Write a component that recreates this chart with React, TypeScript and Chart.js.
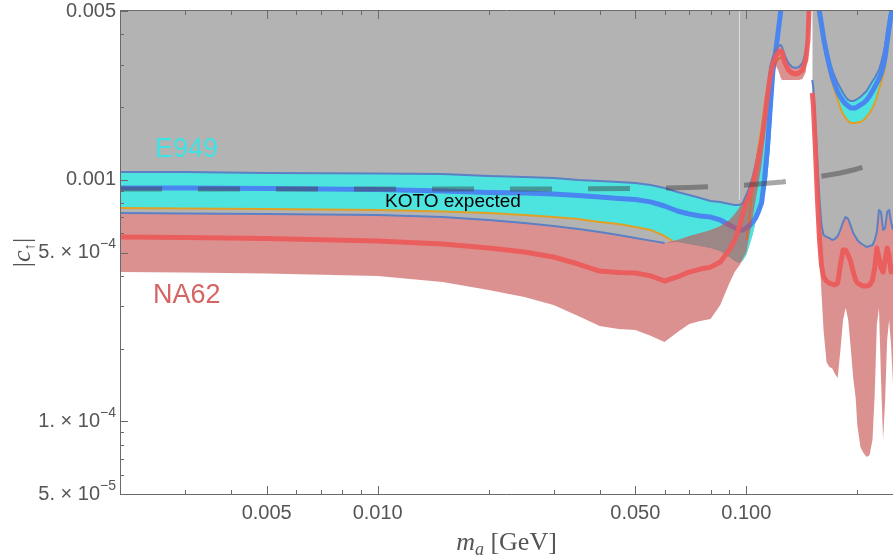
import React, { useEffect, useRef } from "react";
import { Chart, registerables } from "chart.js";
Chart.register(...registerables);

// ---------- data (mass in GeV, coupling |c|) ----------
const massLeft = [0.002, 0.003, 0.005, 0.01, 0.015, 0.02, 0.025, 0.03, 0.035, 0.04, 0.045, 0.05, 0.055, 0.06, 0.065, 0.07, 0.075, 0.08, 0.085, 0.09, 0.093, 0.096, 0.098, 0.1, 0.102, 0.104, 0.106, 0.108, 0.11, 0.112, 0.114, 0.116, 0.118, 0.12, 0.122, 0.124, 0.125, 0.127, 0.13, 0.133, 0.136, 0.139, 0.142, 0.145, 0.147, 0.148];

const e949TopLeft = [0.001077, 0.001077, 0.001067, 0.001062, 0.001057, 0.001037, 0.001027, 0.001017, 0.000998, 0.000989, 0.000979, 0.00097, 0.000951, 0.000925, 0.00089, 0.000865, 0.000841, 0.000817, 0.00081, 0.000794, 0.000787, 0.000787, 0.000802, 0.000841, 0.000907, 0.000979, 0.001077, 0.001208, 0.001393, 0.001735, 0.002245, 0.002932, 0.003225, 0.003382, 0.003978, 0.00495, 0.0053];
const e949MidLeft = [0.000925, 0.000925, 0.00092, 0.000911, 0.000899, 0.000886, 0.000882, 0.000874, 0.000861, 0.000849, 0.000837, 0.000829, 0.00081, 0.000779, 0.000743, 0.000722, 0.000708, 0.000701, 0.000682, 0.00065, 0.000632, 0.00062, 0.00062, 0.000632, 0.000644, 0.000669, 0.000695, 0.000743, 0.000802, 0.000998, 0.001329, 0.001946, 0.002795, 0.00335, 0.004093, 0.005, 0.0053];
const e949BotLeft = [0.000764, 0.00076, 0.000757, 0.00075, 0.00074, 0.000729, 0.000715, 0.000701, 0.000688, 0.000669, 0.000656, 0.000638, 0.00062, 0.000585, 0.000553, 0.000542, 0.000532, 0.000522, 0.000507, 0.000479, 0.000461, 0.000452, 0.000465, 0.000488, 0.000537, 0.000591, 0.000669, 0.000736, 0.000802, 0.000865, 0.001017, 0.001393, 0.00214, 0.003288, 0.004172, 0.00505, 0.0054];

const orangeMassLeft = [0.002, 0.003, 0.005, 0.01, 0.015, 0.02, 0.025, 0.03, 0.035, 0.04, 0.045, 0.05, 0.055, 0.06, 0.063, 0.08, 0.1, 0.102, 0.104, 0.106, 0.108, 0.11, 0.112, 0.114, 0.116, 0.118, 0.12, 0.122, 0.125];
const orangeLeft = [0.000764, 0.00076, 0.000757, 0.00075, 0.00074, 0.000729, 0.000715, 0.000701, 0.000688, 0.000669, 0.000656, 0.000638, 0.00062, 0.000585, 0.000558, null, 0.000563, 0.000715, 0.000907, 0.001151, 0.001393, 0.001639, 0.002041, 0.002399, 0.00264, 0.002849, 0.003046, 0.003163, 0.003225];

const na62TopLeft = [0.000729, 0.000725, 0.000722, 0.000715, 0.000701, 0.000682, 0.000662, 0.000644, 0.000626, 0.000608, 0.000591, 0.000574, 0.00056, 0.000547, 0.000563, 0.000585, 0.000602, 0.00062, 0.000644, 0.000682, 0.000722, 0.000772, 0.00081, 0.000865, 0.000934, 0.001027, 0.001151, 0.001329, 0.001532, 0.001854, 0.00231, 0.002795, 0.003194, 0.003448, 0.003582, 0.003616, 0.003547, 0.003288, 0.003046, 0.002932, 0.002904, 0.002932, 0.003046, 0.003382, 0.004172, 0.005294];
const na62MidLeft = [0.00058, 0.000577, 0.000571, 0.000558, 0.000542, 0.000522, 0.000502, 0.000479, 0.000448, 0.000419, 0.000413, 0.000411, 0.0004, 0.000381, 0.000396, 0.000415, 0.000427, 0.000435, 0.000457, 0.000512, 0.000563, 0.00065, 0.000729, 0.000802, 0.000865, 0.000951, 0.001077, 0.001242, 0.001435, 0.001769, 0.002203, 0.002665, 0.003018, 0.003225, 0.00335, 0.003415, 0.003382, 0.003075, 0.002849, 0.002769, 0.002742, 0.002769, 0.002849, 0.003135, 0.003793, 0.005145];
const na62BotLeft = [0.000415, 0.000413, 0.000409, 0.0004, 0.000377, 0.00035, 0.000327, 0.000303, 0.000273, 0.000248, 0.000241, 0.000239, 0.000226, 0.000213, 0.000234, 0.000253, 0.00026, 0.000265, 0.000303, 0.000374, 0.000415, 0.000444, 0.000474, 0.000502, 0.000591, 0.000695, 0.000825, 0.00097, 0.001151, 0.001461, 0.001946, 0.002468, 0.002795, 0.002989, 0.002849, 0.00264, 0.00259, 0.00259, 0.00259, 0.00259, 0.00259, 0.00259, 0.002615, 0.002795, 0.003448, 0.00505];

const massRight = [0.151, 0.152, 0.154, 0.156, 0.158, 0.16, 0.162, 0.165, 0.168, 0.171, 0.174, 0.177, 0.18, 0.183, 0.186, 0.189, 0.192, 0.195, 0.198, 0.2, 0.204, 0.208, 0.212, 0.216, 0.22, 0.223, 0.226, 0.229, 0.232, 0.235, 0.238, 0.241, 0.244, 0.247, 0.25];
const na62TopRight = [0.00259, 0.002399, 0.001686, 0.001151, 0.000825, 0.00065, 0.000591, 0.00058, 0.000574, 0.000563, 0.000569, 0.000585, 0.00062, 0.000669, 0.000701, 0.000688, 0.000644, 0.000602, 0.00058, 0.000563, 0.000547, 0.000537, 0.000527, 0.000532, 0.000537, 0.000563, 0.000608, 0.00075, 0.000736, 0.00062, 0.000632, 0.000736, 0.00075, 0.000669, 0.00062];
const na62MidRight = [0.002288, 0.002041, 0.001329, 0.000825, 0.000563, 0.00044, 0.000396, 0.000381, 0.000374, 0.00037, 0.000367, 0.000374, 0.000444, 0.000512, 0.000512, 0.000488, 0.000457, 0.000415, 0.000385, 0.000374, 0.000367, 0.000363, 0.000363, 0.000367, 0.000385, 0.000431, 0.000522, 0.000474, 0.000431, 0.000415, 0.000465, 0.000522, 0.000488, 0.000415, 0.000444];
const na62BotRight = [0.002223, 0.001946, 0.001208, 0.00075, 0.000488, 0.000334, 0.000239, 0.000176, 0.000168, 0.000166, 0.000157, 0.000151, 0.000197, 0.000263, 0.000295, 0.000263, 0.000201, 0.000151, 0.000125, 0.0000965, 0.000078, 0.0000739, 0.0000712, 0.0000725, 0.000084, 0.000129, 0.000251, 0.000295, 0.000148, 0.000084, 0.000122, 0.000217, 0.000263, 0.000207, 0.000144];

const massU = [0.155, 0.156, 0.158, 0.16, 0.162, 0.165, 0.168, 0.171, 0.174, 0.177, 0.18, 0.183, 0.186, 0.189, 0.192, 0.195, 0.198, 0.2, 0.204, 0.208, 0.212, 0.216, 0.22, 0.223, 0.226, 0.229, 0.232, 0.235, 0.238, 0.241, 0.244, 0.247, 0.25];
const e949TopU = [0.00611, 0.005824, 0.005294, 0.004589, 0.004093, 0.003513, 0.003135, 0.002849, 0.002665, 0.002515, 0.002399, 0.002288, 0.002203, 0.00214, 0.00212, 0.00212, 0.00214, 0.002161, 0.002203, 0.002266, 0.002332, 0.002445, 0.002566, 0.00264, 0.002742, 0.002849, 0.003046, 0.003288, 0.003616, 0.004172, 0.004677, 0.005145, 0.005553];
const e949MidU = [0.005553, 0.0054, 0.004952, 0.004375, 0.003866, 0.00335, 0.00296, 0.002665, 0.002468, 0.00231, 0.002203, 0.00212, 0.00206, 0.002021, 0.001983, 0.001983, 0.001983, 0.002003, 0.002041, 0.00208, 0.00214, 0.002223, 0.002332, 0.002422, 0.002515, 0.002615, 0.002742, 0.002932, 0.003225, 0.003722, 0.004252, 0.004813, 0.005294];
const e949BotU = [0.005294, 0.00505, 0.004502, 0.004054, 0.003616, 0.003194, 0.002795, 0.002515, 0.00231, 0.00214, 0.001983, 0.001873, 0.001803, 0.001752, 0.001718, 0.001718, 0.001718, 0.001727, 0.001735, 0.001769, 0.00182, 0.001891, 0.001983, 0.00208, 0.002203, 0.002354, 0.002515, 0.002691, 0.002932, 0.003382, 0.003866, 0.004502, 0.00505];

const kotoMass = [0.002, 0.01, 0.03, 0.05, 0.07, 0.09, 0.1, 0.125, 0.15, 0.18, 0.2, 0.22, 0.25];
const kotoValues = [0.000916, 0.000916, 0.000916, 0.00092, 0.000929, 0.000943, 0.000951, 0.000979, 0.001017, 0.001067, 0.001109, 0.001163, 0.00123];

const edgeMass = [0.0958, 0.0958];
const edgeValues = [0.005, 0.000825];

const xMajorTicks = [0.005, 0.01, 0.05, 0.1];
const xMajorLabels = ["0.005", "0.010", "0.050", "0.100"];
const xMinorTicks = [0.003, 0.004, 0.006, 0.007, 0.008, 0.009, 0.02, 0.03, 0.04, 0.06, 0.07, 0.08, 0.09, 0.2];
const yMajorTicks = [0.005, 0.001, 0.0005, 0.0001, 0.00005];
const yMajorLabels = [["0.005", ""], ["0.001", ""], ["5. \u00d7 10", "\u22124"], ["1. \u00d7 10", "\u22124"], ["5. \u00d7 10", "\u22125"]];
const yMinorTicks = [0.004, 0.003, 0.002, 0.0009, 0.0008, 0.0007, 0.0006, 0.0004, 0.0003, 0.0002, 0.00009, 0.00008, 0.00007, 0.00006];

// ---------- styles ----------
const GRAY = "#b3b3b3";
const CYAN = "#4de4e0";
const RED_BAND = "rgba(200,80,80,0.63)";
const THIN_BLUE = "#5b80c4";
const THICK_BLUE = "#4a86f0";
const ORANGE = "#e1a024";
const THICK_RED = "rgba(236,92,92,0.95)";
const SANS = '"Liberation Sans", Arial, sans-serif';
const SERIF = '"Liberation Serif", "Times New Roman", serif';
const AXIS = "#6a6a6a";
const LABEL = "#555555";

const pts = (xs: number[], ys: (number | null)[]) => xs.map((x, i) => ({ x, y: ys[i] }));
const ds = (xs: number[], ys: (number | null)[], o: any) => ({
  data: pts(xs, ys),
  pointRadius: 0,
  pointHitRadius: 0,
  borderWidth: 0,
  borderColor: "transparent",
  backgroundColor: "transparent",
  fill: false,
  tension: 0,
  clip: 0,
  borderJoinStyle: "round",
  ...o,
});

const overlayPlugin = {
  id: "overlay",
  afterDatasetsDraw(chart: any) {
    const { ctx } = chart;
    ctx.save();
    ctx.textBaseline = "alphabetic";
    ctx.textAlign = "left";
    ctx.font = `27px ${SANS}`;
    ctx.fillStyle = "#3fe2e2";
    ctx.fillText("E949", 155, 157);
    ctx.fillStyle = "#d56464";
    ctx.fillText("NA62", 153, 303);
    ctx.font = `19px ${SANS}`;
    ctx.fillStyle = "#000";
    ctx.fillText("KOTO expected", 385, 207);
    ctx.restore();
  },
  afterDraw(chart: any) {
    const { ctx, chartArea, scales } = chart;
    const { left, right, top, bottom } = chartArea;
    const xs = scales.x;
    const ys = scales.y;
    ctx.save();
    ctx.strokeStyle = AXIS;
    ctx.lineWidth = 1;
    ctx.beginPath();
    ctx.moveTo(left + 0.5, top - 0.5);
    ctx.lineTo(left + 0.5, bottom + 0.5);
    ctx.lineTo(right, bottom + 0.5);
    ctx.moveTo(left, top - 0.5);
    ctx.lineTo(right, top - 0.5);
    const tick = (v: number, len: number) => {
      const p = Math.round(xs.getPixelForValue(v)) + 0.5;
      ctx.moveTo(p, bottom);
      ctx.lineTo(p, bottom - len);
      ctx.moveTo(p, top);
      ctx.lineTo(p, top + len);
    };
    xMajorTicks.forEach((v) => tick(v, 8));
    xMinorTicks.forEach((v) => tick(v, 4));
    const ytick = (v: number, len: number) => {
      const p = Math.round(ys.getPixelForValue(v)) + 0.5;
      ctx.moveTo(left, p);
      ctx.lineTo(left + len, p);
    };
    yMajorTicks.forEach((v) => ytick(v, 8));
    yMinorTicks.forEach((v) => ytick(v, 4));
    ctx.stroke();

    // x tick labels
    ctx.fillStyle = LABEL;
    ctx.font = `20px ${SANS}`;
    ctx.textAlign = "center";
    ctx.textBaseline = "middle";
    xMajorTicks.forEach((v, i) => {
      ctx.fillText(xMajorLabels[i], xs.getPixelForValue(v), 513);
    });
    // y tick labels
    yMajorTicks.forEach((v, i) => {
      const [main, exp] = yMajorLabels[i];
      const py = ys.getPixelForValue(v);
      const xr = 116;
      let ew = 0;
      if (exp) {
        ctx.font = `14px ${SANS}`;
        ew = ctx.measureText(exp).width;
      }
      ctx.font = `20px ${SANS}`;
      ctx.textAlign = "right";
      ctx.fillText(main, xr - ew, py);
      if (exp) {
        ctx.font = `14px ${SANS}`;
        ctx.textAlign = "left";
        ctx.fillText(exp, xr - ew, py - 8);
      }
    });

    // x axis title: m_a [GeV]
    ctx.textBaseline = "alphabetic";
    ctx.textAlign = "left";
    const f1 = `italic 26px ${SERIF}`;
    const f2 = `italic 18px ${SERIF}`;
    const f3 = `26px ${SERIF}`;
    ctx.font = f1;
    const w1 = ctx.measureText("m").width;
    ctx.font = f2;
    const w2 = ctx.measureText("a").width;
    ctx.font = f3;
    const w3 = ctx.measureText(" [GeV]").width;
    let sx = (left + right) / 2 - (w1 + w2 + w3) / 2;
    const by = 550;
    ctx.font = f1;
    ctx.fillText("m", sx, by);
    sx += w1;
    ctx.font = f2;
    ctx.fillText("a", sx, by + 5);
    sx += w2;
    ctx.font = f3;
    ctx.fillText(" [GeV]", sx, by);

    // y axis title: |c↑|
    ctx.save();
    ctx.translate(30, (top + bottom) / 2);
    ctx.rotate(-Math.PI / 2);
    const g1 = `26px ${SERIF}`;
    const g2 = `italic 26px ${SERIF}`;
    const g3 = `15px ${SERIF}`;
    ctx.font = g1;
    const bw = ctx.measureText("|").width;
    ctx.font = g2;
    const cw = ctx.measureText("c").width;
    ctx.font = g3;
    const aw = ctx.measureText("\u2191").width;
    let tx = -(bw * 2 + cw + aw) / 2;
    ctx.font = g1;
    ctx.fillText("|", tx, 0);
    tx += bw;
    ctx.font = g2;
    ctx.fillText("c", tx, 0);
    tx += cw;
    ctx.font = g3;
    ctx.fillText("\u2191", tx, 4);
    tx += aw;
    ctx.font = g1;
    ctx.fillText("|", tx, 0);
    ctx.restore();

    ctx.restore();
  },
};

export default function App() {
  const ref = useRef<HTMLCanvasElement>(null);
  useEffect(() => {
    const m37 = massLeft.slice(0, e949BotLeft.length);
    const grayBoundary = massLeft.map((m, i) =>
      i < e949BotLeft.length ? Math.min(e949BotLeft[i], na62TopLeft[i]) : na62TopLeft[i]
    );
    const na62TopLeftLine = na62TopLeft.map((v, i) =>
      massLeft[i] > 0.062 && massLeft[i] < 0.097 ? null : v
    );
    const datasets = [
      ds(massLeft, grayBoundary, { fill: "end", backgroundColor: GRAY, order: 30 }), // 0
      ds(massRight, na62TopRight, { fill: "end", backgroundColor: GRAY, order: 30 }), // 1
      ds(m37, e949TopLeft, { order: 40 }), // 2
      ds(m37, e949BotLeft, { fill: 2, backgroundColor: CYAN, order: 25 }), // 3
      ds(massU, e949TopU, { order: 40 }), // 4
      ds(massU, e949BotU, { fill: 4, backgroundColor: CYAN, order: 25 }), // 5
      ds(massLeft, na62TopLeft, { order: 40 }), // 6
      ds(massLeft, na62BotLeft, { fill: 6, backgroundColor: RED_BAND, order: 12 }), // 7
      ds(massRight, na62TopRight, { order: 40 }), // 8
      ds(massRight, na62BotRight, { fill: 8, backgroundColor: RED_BAND, order: 12 }), // 9
      ds(edgeMass, edgeValues, { borderColor: "rgba(255,255,255,0.25)", borderWidth: 1, order: 28 }),
      ds(m37, e949TopLeft, { borderColor: THIN_BLUE, borderWidth: 2, order: 20 }),
      ds(massU, e949TopU, { borderColor: THIN_BLUE, borderWidth: 2, order: 20 }),
      ds(orangeMassLeft, orangeLeft, { borderColor: ORANGE, borderWidth: 2, order: 19 }),
      ds(massU, e949BotU, { borderColor: ORANGE, borderWidth: 2, order: 19 }),
      ds(m37, e949MidLeft, { borderColor: THICK_BLUE, borderWidth: 5, order: 18 }),
      ds(massU, e949MidU, { borderColor: THICK_BLUE, borderWidth: 5, order: 18 }),
      ds(massLeft, na62TopLeftLine, { borderColor: THIN_BLUE, borderWidth: 2, order: 10 }),
      ds(massRight, na62TopRight, { borderColor: THIN_BLUE, borderWidth: 2, order: 10 }),
      ds(massLeft, na62MidLeft, { borderColor: THICK_RED, borderWidth: 5, order: 8 }),
      ds(massRight, na62MidRight, { borderColor: THICK_RED, borderWidth: 5, order: 8 }),
      ds(kotoMass, kotoValues, {
        borderColor: "rgba(60,60,60,0.45)",
        borderWidth: 5,
        borderDash: [42, 36],
        borderCapStyle: "butt",
        order: 1,
      }),
    ];
    const chart = new Chart(ref.current as HTMLCanvasElement, {
      type: "line",
      data: { datasets: datasets as any },
      options: {
        responsive: false,
        animation: false,
        devicePixelRatio: 1,
        events: [],
        layout: { padding: { top: 11, left: 0, right: 0, bottom: 0 } },
        plugins: {
          legend: { display: false },
          tooltip: { enabled: false },
          filler: { drawTime: "beforeDatasetDraw" } as any,
        },
        scales: {
          x: {
            type: "logarithmic",
            min: 0.002,
            max: 0.25,
            ticks: { display: false },
            grid: { display: false },
            border: { display: false },
            afterFit: (s: any) => {
              s.height = 66;
            },
          },
          y: {
            type: "logarithmic",
            min: 0.00005,
            max: 0.005,
            ticks: { display: false },
            grid: { display: false },
            border: { display: false },
            afterFit: (s: any) => {
              s.width = 120;
            },
          },
        },
      },
      plugins: [overlayPlugin],
    });
    return () => chart.destroy();
  }, []);
  return (
    <div style={{ position: "fixed", left: 0, top: 0, width: 893, height: 560, background: "#fff" }}>
      <canvas ref={ref} width={893} height={560} style={{ display: "block", width: 893, height: 560 }} />
    </div>
  );
}
